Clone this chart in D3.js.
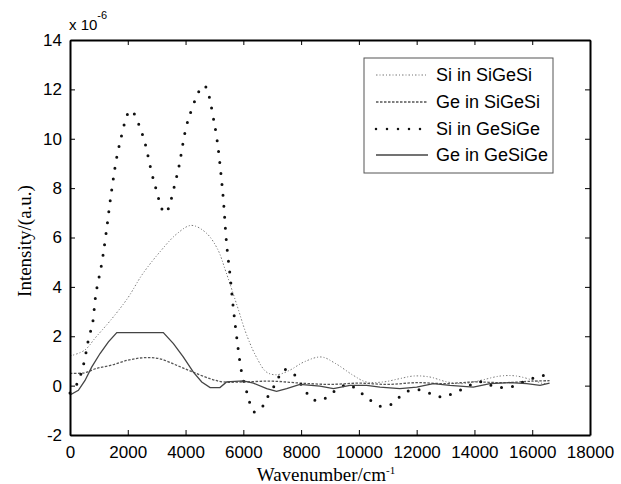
<!DOCTYPE html>
<html>
<head>
<meta charset="utf-8">
<script src="https://cdn.jsdelivr.net/npm/d3@7"></script>
<style>
  body { margin: 0; background: #fff; }
  text { font-family: "Liberation Sans", Arial, sans-serif; }
</style>
</head>
<body>
<svg id="chart"></svg>
<script>
// values, x in cm^-1, y in 1e-6 a.u.
const siSiGeSiX = [0, 500, 900, 1400, 2000, 2500, 3100, 3700, 4200, 4700, 5100, 5400, 5800, 6100, 6450, 6800, 7150, 7600, 8100, 8700, 9200, 9800, 10250, 10850, 11400, 11900, 12450, 13050, 13600, 14200, 14900, 15450, 16050, 16400, 16600]
const siSiGeSiY = [1.2, 1.43, 1.97, 2.64, 3.55, 4.5, 5.4, 6.15, 6.49, 6.2, 5.55, 4.6, 3.18, 2.1, 1.16, 0.55, 0.44, 0.62, 0.96, 1.16, 0.89, 0.42, 0.15, 0.15, 0.28, 0.39, 0.35, 0.15, 0.08, 0.21, 0.39, 0.39, 0.21, 0.08, 0.1]

const geSiGeSiX = [0, 500, 900, 1400, 2000, 2550, 3100, 3700, 4250, 4850, 5300, 6000, 7000, 8000, 9000, 10000, 11000, 12000, 13000, 14000, 15000, 16000, 16600]
const geSiGeSiY = [0.5, 0.52, 0.69, 0.82, 1.03, 1.13, 1.09, 0.82, 0.55, 0.28, 0.15, 0.15, 0.18, 0.1, 0.05, 0.1, 0.05, 0.12, 0.08, 0.15, 0.12, 0.18, 0.2]

const siGeSiGeX = [0, 250, 460, 670, 770, 900, 1100, 1250, 1450, 1700, 2100, 2500, 2900, 3290, 3700, 4100, 4640, 5000, 5270, 5420, 5540, 5650, 5770, 5940, 6120, 6380, 6630, 6810, 7150, 7390, 7730, 7960, 8160, 8370, 8710, 9000, 9620, 9920, 10210, 10470, 10770, 11110, 11370, 11630, 11940, 12290, 12600, 12920, 13270, 13670, 14020, 14370, 14650, 15000, 15350, 15640, 15980, 16290, 16550]
const siGeSiGeY = [-0.3, 0.09, 0.82, 2.04, 2.44, 3.74, 4.96, 6.18, 7.98, 9.7, 11.15, 10.2, 8.3, 6.99, 8.5, 10.8, 12.16, 10.6, 8.04, 5.76, 4.47, 3.18, 1.97, 0.55, -0.26, -1.07, -0.9, -0.52, 0.15, 0.65, 0.49, 0.12, -0.23, -0.55, -0.6, -0.35, 0.05, -0.15, -0.42, -0.65, -0.84, -0.76, -0.49, -0.26, -0.16, -0.23, -0.38, -0.46, -0.3, -0.1, 0.11, 0.15, -0.03, -0.08, -0.03, 0.12, 0.28, 0.39, 0.45]

const geGeSiGeX = [0, 290, 520, 750, 1040, 1330, 1620, 3230, 3580, 3920, 4270, 4560, 4850, 5190, 5420, 6000, 6350, 6810, 7150, 7500, 7960, 8650, 9120, 9690, 10270, 10730, 11420, 12000, 12580, 13150, 13960, 14540, 15230, 15810, 16270, 16600]
const geGeSiGeY = [-0.38, -0.19, 0.21, 0.75, 1.3, 1.77, 2.15, 2.15, 1.7, 1.16, 0.55, 0.15, -0.08, -0.08, 0.15, 0.19, 0.1, -0.12, -0.23, -0.12, 0.05, -0.02, -0.12, 0.01, 0.01, -0.06, -0.12, -0.06, 0.08, 0.01, -0.06, 0.08, 0.12, 0.08, 0.01, 0.1]

const seriesNames = ["Si in SiGeSi", "Ge in SiGeSi", "Si in GeSiGe", "Ge in GeSiGe"]
const xTicks = d3.range(0, 18001, 2000)
const yTicks = d3.range(-2, 15, 2)

const width = 621, height = 484
const m = {left: 70, right: 590, top: 40, bottom: 435}

const svg = d3.select("#chart").attr("width", width).attr("height", height)

const x = d3.scaleLinear().domain([0, 18000]).range([m.left, m.right])
const y = d3.scaleLinear().domain([-2, 14]).range([m.bottom, m.top])

const styles = [
  {stroke: "#777", width: 1, dash: "1.5 2 1 2"},
  {stroke: "#555", width: 1.3, dash: "2.5 1.5"},
  {stroke: "#111", width: 3, dash: "0 11", cap: "round"},
  {stroke: "#444", width: 1.3, dash: null}
]

const data = [
  d3.zip(siSiGeSiX, siSiGeSiY),
  d3.zip(geSiGeSiX, geSiGeSiY),
  d3.zip(siGeSiGeX, siGeSiGeY),
  d3.zip(geGeSiGeX, geGeSiGeY)
]

const line = d3.line().x(d => x(d[0])).y(d => y(d[1])).curve(d3.curveCatmullRom.alpha(0.5))
const plainLine = d3.line().x(d => x(d[0])).y(d => y(d[1]))

data.forEach(function(d, i) {
  const s = styles[i]
  svg.append("path")
    .datum(d)
    .attr("d", i == 3 ? plainLine : line)
    .attr("fill", "none")
    .attr("stroke", s.stroke)
    .attr("stroke-width", s.width)
    .attr("stroke-dasharray", s.dash)
    .attr("stroke-linecap", s.cap || "butt")
})

// axes, ticks pointing inward like matlab
svg.append("g")
  .attr("transform", "translate(0," + m.bottom + ")")
  .call(d3.axisBottom(x).tickValues(xTicks).tickFormat(d => String(d)).tickSizeInner(-5).tickSizeOuter(0).tickPadding(11))
svg.append("g")
  .attr("transform", "translate(0," + m.top + ")")
  .call(d3.axisTop(x).tickValues(xTicks).tickSizeInner(-5).tickSizeOuter(0).tickFormat(""))
svg.append("g")
  .attr("transform", "translate(" + m.left + ",0)")
  .call(d3.axisLeft(y).tickValues(yTicks).tickFormat(d => String(d)).tickSizeInner(-5).tickSizeOuter(0).tickPadding(8))
svg.append("g")
  .attr("transform", "translate(" + m.right + ",0)")
  .call(d3.axisRight(y).tickValues(yTicks).tickSizeInner(-5).tickSizeOuter(0).tickFormat(""))

svg.selectAll(".domain").attr("stroke", "#000").attr("stroke-width", 2)
svg.selectAll(".tick line").attr("stroke", "#000")
svg.selectAll(".tick text")
  .style("font-family", "Liberation Sans, Arial, sans-serif")
  .style("font-size", "17px")
  .attr("fill", "#000")

svg.append("text")
  .attr("x", m.left - 1).attr("y", 30)
  .style("font-size", "15px")
  .text("x 10")
  .append("tspan").attr("dy", -11).style("font-size", "11px").text("-6")

svg.append("text")
  .attr("transform", "translate(31,241) rotate(-90)")
  .attr("text-anchor", "middle")
  .style("font-family", "Liberation Serif, Times New Roman, serif")
  .style("font-size", "19px")
  .text("Intensity/(a.u.)")

const xl = svg.append("text")
  .attr("x", 326).attr("y", 481)
  .attr("text-anchor", "middle")
  .style("font-family", "Liberation Serif, Times New Roman, serif")
  .style("font-size", "19px")
  .text("Wavenumber/cm")
xl.append("tspan").attr("dy", -7).style("font-size", "11px").text("-1")

// legend
const lg = svg.append("g")
lg.append("rect")
  .attr("x", 364).attr("y", 58).attr("width", 189).attr("height", 115)
  .attr("fill", "#fff").attr("stroke", "#555").attr("stroke-width", 1)

const legendY = [75, 102, 129, 155]
seriesNames.forEach(function(name, i) {
  const s = styles[i]
  lg.append("line")
    .attr("x1", 376).attr("x2", 428)
    .attr("y1", legendY[i]).attr("y2", legendY[i])
    .attr("stroke", s.stroke)
    .attr("stroke-width", i == 2 ? 2.5 : s.width)
    .attr("stroke-dasharray", i == 2 ? "0 11" : s.dash)
    .attr("stroke-linecap", s.cap || "butt")
  lg.append("text")
    .attr("x", 436).attr("y", legendY[i] + 6)
    .style("font-size", "18px")
    .text(name)
})
</script>
</body>
</html>
